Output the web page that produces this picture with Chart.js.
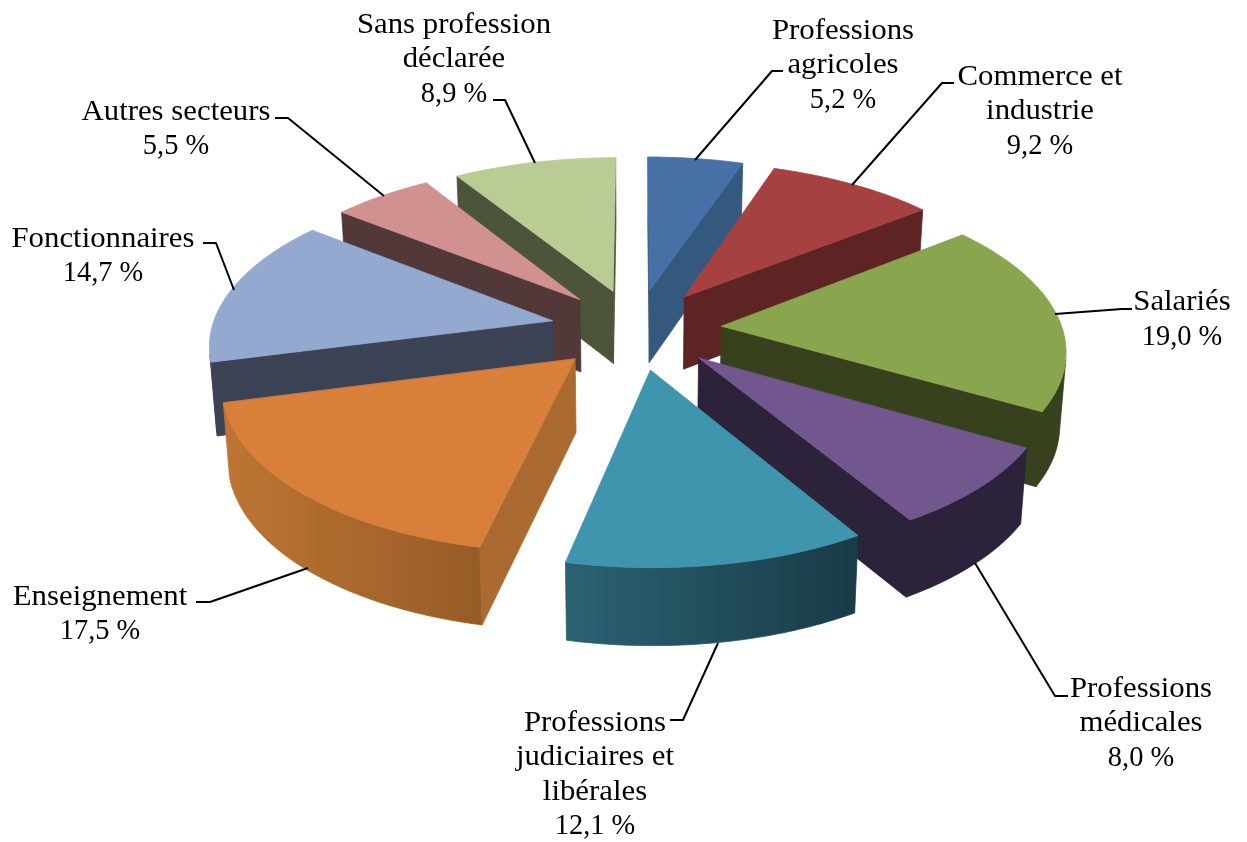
<!DOCTYPE html>
<html lang="fr"><head><meta charset="utf-8">
<style>html,body{margin:0;padding:0;background:#fff}canvas{display:block}</style>
<script src="https://cdn.jsdelivr.net/npm/chart.js@4/dist/chart.umd.min.js"></script>
</head><body><canvas id="c" width="1247" height="842"></canvas>
<script>
// Data
const categories = ["Professions agricoles","Commerce et industrie","Salariés","Professions médicales","Professions judiciaires et libérales","Enseignement","Fonctionnaires","Autres secteurs","Sans profession déclarée"];
const shares = [5.2,9.2,19.0,8.0,12.1,17.5,14.7,5.5,8.9];
const labelLines = [["Professions","agricoles"],["Commerce et","industrie"],["Salariés"],["Professions","médicales"],["Professions","judiciaires et","libérales"],["Enseignement"],["Fonctionnaires"],["Autres secteurs"],["Sans profession","déclarée"]];
// Styles
const topColors = ["#4670A6","#A54241","#89A54E","#72578E","#4095AE","#D77F3B","#93A9CF","#D09190","#B9CC94"];
const cutColors = ["#34587E","#5E2423","#37411D","#2C2239","#1F4452","#AB6A30","#3C4355","#523839","#4C5439"];
const wallFrom  = ["#34587E","#5E2423","#37411D","#2C2239","#2B6272","#BE7533","#3C4355","#523839","#4C5439"];
const wallTo    = ["#34587E","#5E2423","#37411D","#2C2239","#193B47","#885222","#3C4355","#523839","#4C5439"];
// Label layout: centre x, first baseline y
const labelX = [843,1040,1182,1141,595,100,103,176,454];
const labelY = [38.5,84.5,310,696.5,730.5,604.5,246.5,119.5,32.5];
const leaders = [
 [[695,160],[772,71],[783,71]],
 [[852,185],[942,83],[954,83]],
 [[1055,314],[1122,309],[1132,309]],
 [[975,563],[1055,696],[1068,696]],
 [[718,643],[683,720],[670,720]],
 [[308,568],[210,602],[196,602]],
 [[234,290],[216,243],[203,243]],
 [[384,196],[288,118],[275,118]],
 [[535,163],[505,100],[493,100]]
];
// View
const view = {cx:636, cy:329, squash:0.4697, persp:0.13, depth:73, depthPersp:4, bottomShrink:0.985};
const fontPx = 29, hScale = 1.062, valueScale = 0.98, lineStep = 34.5;

function project(chartArc, px, py, low){
  const R = chartArc.outerRadius, w = 1 - view.persp*py/R;
  let sx = view.cx + px/w, sy = view.cy + view.squash*py/w;
  if(low){ sx = view.cx + (sx-view.cx)*view.bottomShrink; sy += view.depth + view.depthPersp*py/R; }
  return [sx,sy];
}
function fillPoly(ctx, pts, style, seal){
  ctx.beginPath(); pts.forEach((p,i)=> i?ctx.lineTo(p[0],p[1]):ctx.moveTo(p[0],p[1])); ctx.closePath();
  ctx.fillStyle=style; ctx.fill();
  if(seal){ ctx.strokeStyle=style; ctx.lineWidth=0.8; ctx.stroke(); }
}
function faces(pts){ let s=0; pts.forEach((p,i)=>{const q=pts[(i+1)%pts.length]; s+=p[0]*q[1]-q[0]*p[1];}); return s<0; }

const pie3d = {
  id:'pie3d',
  beforeDatasetDraw(chart,args){
    const ctx = chart.ctx, arcs = chart.getDatasetMeta(args.index).data;
    const order = arcs.map((a,i)=>i).sort((i,j)=>Math.sin((arcs[i].startAngle+arcs[i].endAngle)/2)-Math.sin((arcs[j].startAngle+arcs[j].endAngle)/2));
    ctx.save();
    order.forEach(i=>{
      const a = arcs[i], R = a.outerRadius, mid=(a.startAngle+a.endAngle)/2, off=(a.options.offset||0)/4;
      const ox=Math.cos(mid)*off, oy=Math.sin(mid)*off, steps=60;
      const ground=[[ox,oy]];
      for(let k=0;k<=steps;k++){const t=a.startAngle+(a.endAngle-a.startAngle)*k/steps; ground.push([ox+R*Math.cos(t),oy+R*Math.sin(t)]);}
      const top=ground.map(g=>project(a,g[0],g[1],false)), low=ground.map(g=>project(a,g[0],g[1],true));
      const xs=top.map(p=>p[0]);
      const grad=ctx.createLinearGradient(Math.min(...xs),0,Math.max(...xs),0);
      grad.addColorStop(0,wallFrom[i]); grad.addColorStop(1,wallTo[i]);
      const n=top.length;
      // outer wall: contiguous front-facing run
      let first=-1,last=-1;
      for(let k=1;k<n-1;k++){
        if(faces([top[k],top[k+1],low[k+1],low[k]])){ if(first<0) first=k; last=k+1; }
      }
      if(first>=0) fillPoly(ctx,top.slice(first,last+1).concat(low.slice(first,last+1).reverse()),grad,true);
      // cut faces
      [[0,1],[n-1,0]].forEach(([k,m])=>{
        const q=[top[k],top[m],low[m],low[k]];
        if(faces(q)) fillPoly(ctx,q,cutColors[i],true);
      });
      fillPoly(ctx,top,a.options.backgroundColor,true);
    });
    ctx.restore();
    return false;
  },
  afterDraw(chart){
    const ctx=chart.ctx;
    ctx.save();
    ctx.strokeStyle='#000'; ctx.lineWidth=2; ctx.lineJoin='round';
    leaders.forEach(l=>{ctx.beginPath();l.forEach((p,i)=>i?ctx.lineTo(p[0],p[1]):ctx.moveTo(p[0],p[1]));ctx.stroke();});
    ctx.fillStyle='#000'; ctx.textAlign='center'; ctx.textBaseline='alphabetic';
    ctx.font=fontPx+'px "Liberation Serif"';
    labelLines.forEach((lines,i)=>{
      const all=lines.concat([shares[i].toFixed(1).replace('.',',')+' %']);
      all.forEach((t,j)=>{
        ctx.save(); ctx.translate(labelX[i],labelY[i]+j*lineStep); ctx.scale(j===lines.length?valueScale:hScale,1); ctx.fillText(t,0,0); ctx.restore();
      });
    });
    ctx.restore();
  }
};

new Chart(document.getElementById('c'),{
  type:'pie',
  data:{labels:categories,datasets:[{data:shares,backgroundColor:topColors,borderWidth:0,offset:343,radius:341}]},
  options:{responsive:false,animation:false,rotation:0,plugins:{legend:{display:false},tooltip:{enabled:false}},layout:{padding:0}},
  plugins:[pie3d]
});
</script></body></html>
